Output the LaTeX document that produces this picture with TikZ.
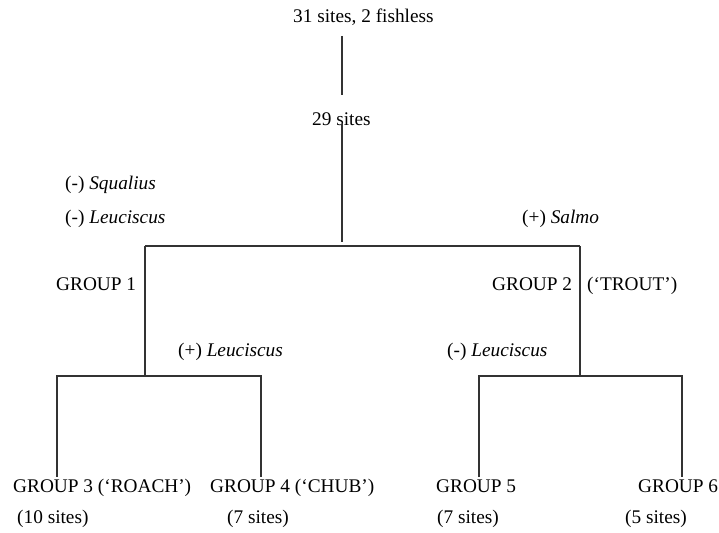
\documentclass[tikz,border=0pt]{standalone}
\usepackage{fontspec}
\setmainfont{Liberation Serif}
\begin{document}
\begin{tikzpicture}[x=1pt,y=-1pt,
  lbl/.style={anchor=base west,inner sep=0pt,font=\fontsize{19.3}{23}\selectfont},
  edge/.style={line width=1.6pt,draw=black!80}]
\useasboundingbox (0,0) rectangle (719,532);
% texts
\node[lbl] (n31) at (293,23) {31 sites, 2 fishless};
\node[lbl] (n29) at (312,125) {29 sites};
\node[lbl] (sq) at (65,189) {(-) \textit{Squalius}};
\node[lbl] (leuA) at (65,223) {(-) \textit{Leuciscus}};
\node[lbl] (sal) at (522,223) {(+) \textit{Salmo}};
\node[lbl] (g1) at (56,290) {GROUP 1};
\node[lbl] (g2) at (492,290) {GROUP 2};
\node[lbl] (trout) at (587,290) {(‘TROUT’)};
\node[lbl] (leuB) at (178,356) {(+) \textit{Leuciscus}};
\node[lbl] (leuC) at (447,356) {(-) \textit{Leuciscus}};
\node[lbl] (g3) at (13,492) {GROUP 3 (‘ROACH’)};
\node[lbl] (g4) at (210,492) {GROUP 4 (‘CHUB’)};
\node[lbl] (g5) at (436,492) {GROUP 5};
\node[lbl] (g6) at (638,492) {GROUP 6};
\node[lbl] (s3) at (17,523) {(10 sites)};
\node[lbl] (s4) at (227,523) {(7 sites)};
\node[lbl] (s5) at (437,523) {(7 sites)};
\node[lbl] (s6) at (625,523) {(5 sites)};
% junction coordinates
\coordinate (a0) at (342,36);
\coordinate (a1) at (342,95);
\coordinate (b0) at (342,124);
\coordinate (root) at (342,242);
\coordinate (L) at (145,246);
\coordinate (R) at (580,246);
\coordinate (Lj) at (145,376);
\coordinate (Rj) at (580,376);
\coordinate (L3) at (57,376);
\coordinate (L4) at (261,376);
\coordinate (R5) at (479,376);
\coordinate (R6) at (682,376);
\coordinate (e3) at (57,477);
\coordinate (e4) at (261,477);
\coordinate (e5) at (479,477);
\coordinate (e6) at (682,477);
% connectors
\draw[edge] (a0) -- (a1);
\draw[edge] (b0) -- (root);
\draw[edge] (L) -- (R);
\draw[edge] (L) -- (Lj);
\draw[edge] (R) -- (Rj);
\draw[edge] (e3) -- (L3) -- (L4) -- (e4);
\draw[edge] (e5) -- (R5) -- (R6) -- (e6);
\end{tikzpicture}
\end{document}
